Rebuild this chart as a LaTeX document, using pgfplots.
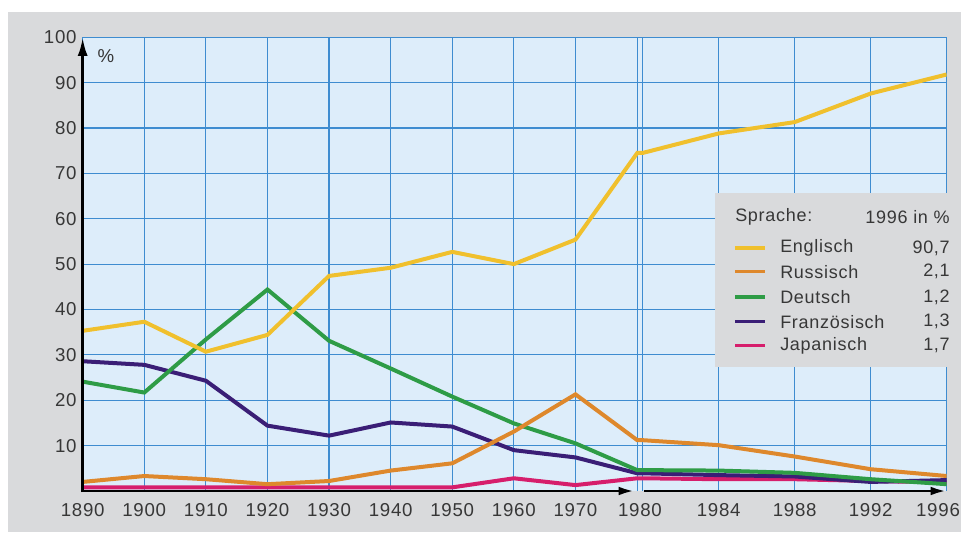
\documentclass[border=0pt]{standalone}
\usepackage{pgfplots}
\usepackage{pgfplotstable}
\pgfplotsset{compat=1.18}
\usetikzlibrary{arrows.meta}
\usepackage{fontspec}
\setmainfont{Liberation Sans}[LetterSpace=4]
\definecolor{panelgray}{RGB}{217,218,220}
\definecolor{plotblue}{RGB}{221,237,250}
\definecolor{gridblue}{RGB}{62,140,208}
\definecolor{txt}{RGB}{55,55,55}
\definecolor{cEN}{RGB}{240,192,45}
\definecolor{cRU}{RGB}{222,136,44}
\definecolor{cDE}{RGB}{46,156,70}
\definecolor{cFR}{RGB}{58,30,118}
\definecolor{cJA}{RGB}{214,30,108}

% x in pixel units: decades 61.6 px apart, then double line at 1980, then 4-year steps of 76 px
\pgfplotstableread{
x      E     R     D     F     J
0      35.3  2.0   24.1  28.6  0.8
61.6   37.3  3.3   21.7  27.8  0.8
123.2  30.7  2.6   33.4  24.3  0.8
184.8  34.4  1.5   44.4  14.4  0.8
246.4  47.4  2.2   33.1  12.2  0.8
308    49.2  4.5   27.0  15.1  0.8
369.6  52.7  6.1   20.8  14.2  0.8
431.2  50.0  13.1  14.9  9.0   2.8
492.8  55.4  21.3  10.5  7.4   1.3
554.6  74.5  11.2  4.6   3.9   2.8
560    74.5  11.2  4.6   3.9   2.8
636    78.8  10.1  4.5   3.5   2.6
712    81.3  7.6   4.0   3.2   2.6
788    87.6  4.8   2.6   2.0   2.2
864    91.8  3.3   1.5   2.4   1.9
}\sprachen

\begin{document}
\begin{tikzpicture}[x=0.75pt,y=0.75pt]
\fill[white] (0,0) rectangle (961,535);
\fill[panelgray] (8,3) rectangle (961,523);
\begin{axis}[
  at={(62.0pt,33.0pt)}, anchor=origin,
  scale only axis, width=648pt, height=340.3pt,
  xmin=0, xmax=864, ymin=0, ymax=100,
  axis background/.style={fill=plotblue},
  axis line style={draw=none},
  clip mode=individual,
  major tick length=0pt,
  xtick={0,61.6,123.2,184.8,246.4,308,369.6,431.2,492.8,554.6,560,636,712,788,864},
  xticklabels={1890,1900,1910,1920,1930,1940,1950,1960,1970,,,1984,1988,1992,{\hspace*{-13pt}1996}},
  extra x ticks={557.3},
  extra x tick labels={1980},
  extra x tick style={grid=none},
  ytick={10,20,30,40,50,60,70,80,90,100},
  grid=major,
  major grid style={gridblue, line width=0.9pt},
  tick label style={font=\fontsize{14}{16}\selectfont, text=txt},
  /pgf/number format/assume math mode=true,
  xticklabel style={yshift=-5.5pt},
  yticklabel style={xshift=-1pt},
]
\addplot[cJA, line width=3pt] table[x=x,y=J] {\sprachen};
\addplot[cFR, line width=3pt] table[x=x,y=F] {\sprachen};
\addplot[cDE, line width=3pt] table[x=x,y=D] {\sprachen};
\addplot[cRU, line width=3pt] table[x=x,y=R] {\sprachen};
\addplot[cEN, line width=3pt] table[x=x,y=E] {\sprachen};
\draw[black, line width=2.2pt, -{Latex[length=14pt,width=7.5pt]}] (axis cs:0,-0.25) -- (axis cs:0,100);
\draw[black, line width=2.2pt, -{Latex[length=12pt,width=6.5pt]}] (axis cs:-1,0) -- (axis cs:552,0);
\draw[black, line width=2.2pt, -{Latex[length=12pt,width=6.5pt]}] (axis cs:561,0) -- (axis cs:864,0);
\end{axis}
\node[text=txt, font=\fontsize{14}{16}\selectfont] at (106,479) {\%};
% legend
\fill[panelgray] (715,168) rectangle (961,342);
\begin{scope}[every node/.style={text=txt, font=\fontsize{13.5}{16}\selectfont, inner sep=0pt}]
\node[anchor=west] at (735,318.3) {Sprache:};
\node[anchor=east] at (950,318.3) {1996 in \%};
\foreach \c/\n/\v/\y in {cEN/Englisch/{90,7}/287, cRU/Russisch/{2,1}/263.3, cDE/Deutsch/{1,2}/238, cFR/Französisch/{1,3}/213.3, cJA/Japanisch/{1,7}/189.3}{
  \draw[\c, line width=2.4pt] (735,\y) -- (765,\y);
  \node[anchor=west] at (780,\y) {\n};
  \node[anchor=east] at (950,\y) {\v};
}
\end{scope}
\pgfresetboundingbox
\useasboundingbox (0,0) rectangle (961,535);
\end{tikzpicture}
\end{document}
